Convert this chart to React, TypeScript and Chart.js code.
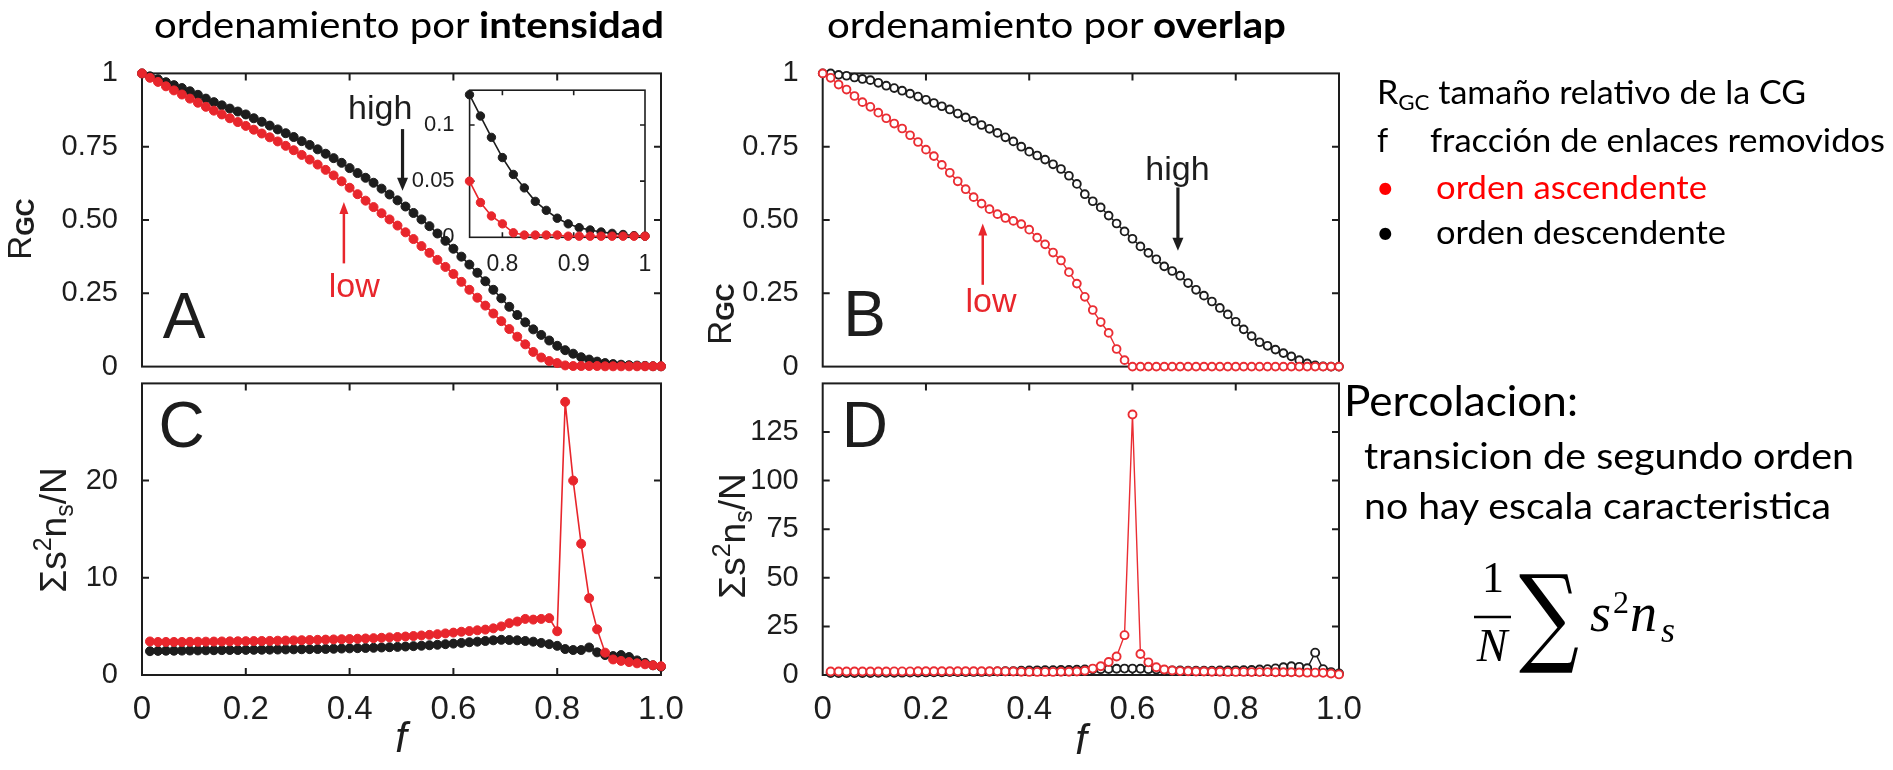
import React, { useEffect, useRef } from "react";
import { Chart, registerables } from "chart.js";

Chart.register(...registerables);

const RED = "#e8262c";
const RED_OPEN = "#ea2d33";
const BLACK = "#1d1d1d";
const RED_TEXT = "#ff0000";
const AX_FONT = "Liberation Sans";
const TXT_FONT = "Lato";

// sampling step of the fraction of removed links f
const F_STEP = 1 / 65;

// Panel A: R_GC vs f (intensity ordering), f = i*F_STEP, i = 0..65
const A_RED = [
  1.0, 0.985, 0.971, 0.956, 0.942, 0.928, 0.914, 0.9, 0.886, 0.873,
  0.86, 0.847, 0.834, 0.821, 0.808, 0.795, 0.782, 0.768, 0.753, 0.738,
  0.722, 0.706, 0.689, 0.671, 0.652, 0.632, 0.61, 0.588, 0.566, 0.544,
  0.523, 0.502, 0.481, 0.458, 0.435, 0.411, 0.388, 0.364, 0.34, 0.316,
  0.289, 0.262, 0.235, 0.208, 0.181, 0.155, 0.128, 0.102, 0.076, 0.05,
  0.031, 0.019, 0.012, 0.004, 0.002, 0.002, 0.002, 0.002, 0.001, 0.001,
  0.001, 0.001, 0.001, 0.001, 0.001, 0.001,
];
const A_BLACK = [
  1.0, 0.99, 0.98, 0.97, 0.96, 0.95, 0.939, 0.927, 0.914, 0.902,
  0.891, 0.88, 0.87, 0.86, 0.847, 0.835, 0.822, 0.809, 0.796, 0.783,
  0.769, 0.756, 0.741, 0.726, 0.711, 0.695, 0.677, 0.66, 0.644, 0.627,
  0.607, 0.587, 0.567, 0.546, 0.524, 0.502, 0.479, 0.454, 0.429, 0.402,
  0.375, 0.348, 0.32, 0.291, 0.262, 0.233, 0.204, 0.176, 0.151, 0.127,
  0.108, 0.089, 0.071, 0.056, 0.044, 0.032, 0.024, 0.017, 0.012, 0.0086,
  0.0065, 0.0047, 0.0035, 0.0025, 0.0015, 0.001,
];
// Panel C: sum s^2 n_s / N, i = 1..65
const C_RED = [
  3.45, 3.4, 3.4, 3.4, 3.4, 3.41, 3.42, 3.43, 3.44, 3.45,
  3.46, 3.47, 3.48, 3.49, 3.5, 3.51, 3.53, 3.54, 3.56, 3.58,
  3.6, 3.62, 3.64, 3.66, 3.68, 3.7, 3.73, 3.76, 3.79, 3.83,
  3.87, 3.91, 3.96, 4.01, 4.07, 4.13, 4.2, 4.28, 4.36, 4.45,
  4.52, 4.6, 4.67, 4.8, 5.0, 5.33, 5.5, 5.77, 5.7, 5.77,
  5.85, 4.5, 28.1, 20.0, 13.5, 7.9, 4.7, 2.3, 1.6, 1.45,
  1.33, 1.2, 1.1, 1.0, 0.9,
];
const C_BLACK = [
  2.45, 2.48, 2.5, 2.5, 2.51, 2.52, 2.53, 2.54, 2.55, 2.56,
  2.57, 2.57, 2.58, 2.59, 2.6, 2.61, 2.62, 2.63, 2.64, 2.65,
  2.66, 2.67, 2.68, 2.7, 2.72, 2.74, 2.76, 2.78, 2.8, 2.83,
  2.86, 2.89, 2.93, 2.97, 3.01, 3.06, 3.11, 3.17, 3.23, 3.3,
  3.37, 3.43, 3.5, 3.57, 3.62, 3.6, 3.57, 3.5, 3.43, 3.3,
  3.17, 3.0, 2.67, 2.57, 2.57, 2.83, 2.33, 2.05, 1.95, 2.05,
  1.85, 1.5, 1.25, 1.0, 0.85,
];
// Panel B: R_GC vs f (overlap ordering), i = 0..65
const B_RED = [
  1.0, 0.985, 0.962, 0.945, 0.923, 0.902, 0.886, 0.866, 0.847, 0.829,
  0.812, 0.789, 0.766, 0.74, 0.718, 0.688, 0.661, 0.632, 0.605, 0.578,
  0.556, 0.537, 0.52, 0.507, 0.497, 0.486, 0.467, 0.44, 0.417, 0.389,
  0.362, 0.322, 0.283, 0.238, 0.193, 0.152, 0.115, 0.06, 0.022, 0,
  0, 0, 0, 0, 0, 0, 0, 0, 0, 0,
  0, 0, 0, 0, 0, 0, 0, 0, 0, 0,
  0, 0, 0, 0, 0, 0,
];
const B_BLACK = [
  1.0, 1.0, 0.995, 0.992, 0.986, 0.981, 0.977, 0.968, 0.958, 0.95,
  0.941, 0.931, 0.921, 0.91, 0.899, 0.888, 0.877, 0.863, 0.85, 0.838,
  0.824, 0.811, 0.797, 0.782, 0.768, 0.75, 0.733, 0.72, 0.706, 0.69,
  0.674, 0.651, 0.623, 0.588, 0.564, 0.543, 0.515, 0.488, 0.461, 0.436,
  0.41, 0.388, 0.366, 0.342, 0.326, 0.31, 0.285, 0.262, 0.242, 0.222,
  0.2, 0.178, 0.153, 0.127, 0.104, 0.083, 0.071, 0.058, 0.046, 0.035,
  0.022, 0.011, 0.004, 0.001, 0, 0,
];
// Panel D: i = 1..65
const D_RED = [
  1.8, 1.8, 1.8, 1.8, 1.8, 1.8, 1.8, 1.8, 1.85, 1.85,
  1.85, 1.9, 1.9, 1.9, 1.9, 1.9, 1.95, 1.95, 1.95, 1.95,
  1.9, 1.9, 1.85, 1.8, 1.7, 1.6, 1.6, 1.6, 1.6, 1.65,
  1.7, 1.8, 2.2, 3.3, 4.5, 6.7, 9.5, 20.5, 134, 10.8,
  6.5, 4.0, 2.8, 2.3, 2.0, 1.9, 1.8, 1.8, 1.7, 1.7,
  1.6, 1.6, 1.6, 1.5, 1.5, 1.5, 1.4, 1.4, 1.4, 1.3,
  1.2, 1.2, 1.1, 0.8, 0.3,
];
const D_BLACK = [
  1.0, 1.0, 1.0, 1.0, 1.0, 1.05, 1.1, 1.1, 1.15, 1.2,
  1.25, 1.3, 1.35, 1.4, 1.45, 1.5, 1.5, 1.55, 1.6, 1.6,
  1.7, 1.8, 1.9, 2.0, 2.2, 2.3, 2.4, 2.5, 2.5, 2.6,
  2.6, 2.7, 2.8, 2.9, 3.0, 3.1, 3.2, 3.3, 3.3, 3.2,
  3.0, 2.8, 2.6, 2.4, 2.3, 2.2, 2.2, 2.2, 2.2, 2.3,
  2.3, 2.4, 2.5, 2.6, 2.8, 3.0, 3.4, 4.0, 4.5, 4.2,
  3.5, 11.5, 3.0, 1.5, 0.8,
];
const INSET_START = 49;

// ticks
const F_TICKS = [0, 0.2, 0.4, 0.6, 0.8, 1];
const F_TICK_LABELS = ["0", "0.2", "0.4", "0.6", "0.8", "1.0"];
const R_TICKS = [0, 0.25, 0.5, 0.75, 1];
const R_TICK_LABELS = ["0", "0.25", "0.50", "0.75", "1"];
const C_TICKS = [0, 10, 20];
const C_TICK_LABELS = ["0", "10", "20"];
const D_TICKS = [0, 25, 50, 75, 100, 125];
const D_TICK_LABELS = ["0", "25", "50", "75", "100", "125"];
const INSET_F_TICKS = [0.8, 0.9, 1];
const INSET_F_LABELS = ["0.8", "0.9", "1"];
const INSET_R_TICKS = [0, 0.05, 0.1];
const INSET_R_LABELS = ["0", "0.05", "0.1"];

const pts = (vals: number[], start: number) =>
  vals.map((y, k) => ({ x: (k + start) * F_STEP, y }));

type Ann =
  | { kind: "text"; x: number; y: number; text: string; color: string; size: number; align?: CanvasTextAlign }
  | { kind: "arrow"; x: number; y1: number; y2: number; color: string; lw: number; hw: number; hl: number };

type Spec = {
  rect: [number, number, number, number];
  plot: [number, number, number, number];
  xr: [number, number];
  yr: [number, number];
  xTicks: number[];
  xLabels: string[] | null;
  yTicks: number[];
  yLabels: string[];
  xFont: number;
  yFont: number;
  xPad: number;
  yPad: number;
  tickLen: number;
  frameW: number;
  ticksTop: boolean;
  ticksBottom: boolean;
  datasets: any[];
  ann: Ann[];
};

function filled(data: any[], color: string, r: number) {
  return {
    data,
    xAxisID: "x",
    yAxisID: "y",
    borderColor: color,
    backgroundColor: color,
    pointBackgroundColor: color,
    pointBorderColor: color,
    pointRadius: r,
    pointBorderWidth: 1,
    borderWidth: 1.6,
    tension: 0,
    clip: false,
  };
}
function open(data: any[], color: string, r: number) {
  return {
    data,
    xAxisID: "x",
    yAxisID: "y",
    borderColor: color,
    backgroundColor: "#ffffff",
    pointBackgroundColor: "#ffffff",
    pointBorderColor: color,
    pointRadius: r,
    pointBorderWidth: 1.9,
    borderWidth: 1.4,
    tension: 0,
    clip: false,
  };
}

function Panel({ spec }: { spec: Spec }) {
  const ref = useRef<HTMLCanvasElement>(null);
  const [L, T, W, H] = spec.rect;
  useEffect(() => {
    const s = spec;
    const [pl, pt, pr, pb] = s.plot;
    const plugin = {
      id: "frameTicks",
      beforeDatasetsDraw(chart: any) {
        const { ctx, chartArea: a, scales } = chart;
        const x = scales.x;
        const y = scales.y;
        ctx.save();
        ctx.strokeStyle = BLACK;
        ctx.lineWidth = s.frameW;
        ctx.beginPath();
        for (const v of s.yTicks) {
          const py = y.getPixelForValue(v);
          if (py < a.top + 2 || py > a.bottom - 2) continue;
          ctx.moveTo(a.left, py);
          ctx.lineTo(a.left + s.tickLen, py);
          ctx.moveTo(a.right, py);
          ctx.lineTo(a.right - s.tickLen, py);
        }
        for (const v of s.xTicks) {
          const px = x.getPixelForValue(v);
          if (px < a.left + 2 || px > a.right - 2) continue;
          if (s.ticksTop) {
            ctx.moveTo(px, a.top);
            ctx.lineTo(px, a.top + s.tickLen);
          }
          if (s.ticksBottom) {
            ctx.moveTo(px, a.bottom);
            ctx.lineTo(px, a.bottom - s.tickLen);
          }
        }
        ctx.stroke();
        ctx.strokeRect(a.left, a.top, a.right - a.left, a.bottom - a.top);
        ctx.restore();
      },
      afterDatasetsDraw(chart: any) {
        const { ctx, scales } = chart;
        const x = scales.x;
        const y = scales.y;
        ctx.save();
        for (const an of s.ann) {
          if (an.kind === "text") {
            ctx.fillStyle = an.color;
            ctx.font = `${an.size}px "${AX_FONT}"`;
            ctx.textAlign = an.align || "center";
            ctx.textBaseline = "alphabetic";
            ctx.fillText(an.text, x.getPixelForValue(an.x), y.getPixelForValue(an.y));
          } else {
            const px = x.getPixelForValue(an.x);
            const p1 = y.getPixelForValue(an.y1);
            const p2 = y.getPixelForValue(an.y2);
            const dir = p2 > p1 ? 1 : -1;
            ctx.strokeStyle = an.color;
            ctx.fillStyle = an.color;
            ctx.lineWidth = an.lw;
            ctx.beginPath();
            ctx.moveTo(px, p1);
            ctx.lineTo(px, p2 - dir * an.hl * 0.8);
            ctx.stroke();
            ctx.beginPath();
            ctx.moveTo(px, p2);
            ctx.lineTo(px - an.hw / 2, p2 - dir * an.hl);
            ctx.lineTo(px + an.hw / 2, p2 - dir * an.hl);
            ctx.closePath();
            ctx.fill();
          }
        }
        ctx.restore();
      },
    };
    const dummy = (axis: string, position: string, fit: (sc: any) => void) => ({
      type: "linear",
      axis,
      position,
      display: true,
      grid: { display: false },
      border: { display: false },
      ticks: { display: false },
      afterFit: fit,
    });
    const chart = new Chart(ref.current as HTMLCanvasElement, {
      type: "line",
      data: { datasets: s.datasets },
      plugins: [plugin],
      options: {
        animation: false,
        responsive: false,
        maintainAspectRatio: false,
        devicePixelRatio: 1,
        events: [],
        layout: { padding: 0, autoPadding: false },
        plugins: { legend: { display: false }, tooltip: { enabled: false } },
        scales: {
          x: {
            type: "linear",
            axis: "x",
            position: "bottom",
            min: s.xr[0],
            max: s.xr[1],
            grid: { display: false },
            border: { display: false },
            afterBuildTicks: (sc: any) => {
              sc.ticks = s.xTicks.map((v) => ({ value: v }));
            },
            ticks: {
              display: !!s.xLabels,
              autoSkip: false,
              maxRotation: 0,
              padding: s.xPad,
              color: BLACK,
              font: { family: AX_FONT, size: s.xFont },
              callback: (_v: any, i: number) => (s.xLabels ? s.xLabels[i] : ""),
            },
            afterFit: (sc: any) => {
              sc.height = T + H - pb;
            },
          },
          y: {
            type: "linear",
            axis: "y",
            position: "left",
            min: s.yr[0],
            max: s.yr[1],
            grid: { display: false },
            border: { display: false },
            afterBuildTicks: (sc: any) => {
              sc.ticks = s.yTicks.map((v) => ({ value: v }));
            },
            ticks: {
              autoSkip: false,
              padding: s.yPad,
              color: BLACK,
              font: { family: AX_FONT, size: s.yFont },
              callback: (_v: any, i: number) => s.yLabels[i],
            },
            afterFit: (sc: any) => {
              sc.width = pl - L;
            },
          },
          xT: dummy("x", "top", (sc: any) => {
            sc.height = pt - T;
          }),
          yR: dummy("y", "right", (sc: any) => {
            sc.width = L + W - pr;
          }),
        },
      } as any,
    });
    return () => chart.destroy();
  }, []);
  return (
    <canvas
      ref={ref}
      width={W}
      height={H}
      style={{ position: "absolute", left: L, top: T, width: W, height: H }}
    />
  );
}

const PLOT_TOP = 73;
const PLOT_MID = 374.5;
const PLOT_BOT = 675;
const LEFT_X0 = 142;
const LEFT_X1 = 661;
const RIGHT_X0 = 822.7;
const RIGHT_X1 = 1339;

const specA: Spec = {
  rect: [0, 40, 700, 360],
  plot: [LEFT_X0, PLOT_TOP, LEFT_X1, PLOT_MID],
  xr: [0, 1],
  yr: [0, 1],
  xTicks: F_TICKS,
  xLabels: null,
  yTicks: R_TICKS,
  yLabels: R_TICK_LABELS,
  xFont: 33,
  yFont: 29,
  xPad: 7,
  yPad: 16,
  tickLen: 7,
  frameW: 2,
  ticksTop: true,
  ticksBottom: false,
  datasets: [filled(pts(A_RED, 0), RED, 4.5), filled(pts(A_BLACK, 0), BLACK, 4.5)],
  ann: [
    { kind: "text", x: 0.459, y: 0.845, text: "high", color: BLACK, size: 34 },
    { kind: "arrow", x: 0.502, y1: 0.81, y2: 0.6, color: BLACK, lw: 3.2, hw: 11, hl: 13 },
    { kind: "text", x: 0.409, y: 0.236, text: "low", color: RED, size: 34 },
    { kind: "arrow", x: 0.389, y1: 0.352, y2: 0.561, color: RED, lw: 2.5, hw: 9, hl: 12 },
    { kind: "text", x: 0.04, y: 0.096, text: "A", color: BLACK, size: 64, align: "left" },
  ],
};

const specInset: Spec = {
  rect: [400, 70, 260, 210],
  plot: [469.6, 90, 645, 237.3],
  xr: [0.754, 1],
  yr: [0, 0.131],
  xTicks: INSET_F_TICKS,
  xLabels: INSET_F_LABELS,
  yTicks: INSET_R_TICKS,
  yLabels: INSET_R_LABELS,
  xFont: 23,
  yFont: 22,
  xPad: 6,
  yPad: 7,
  tickLen: 5,
  frameW: 1.6,
  ticksTop: true,
  ticksBottom: true,
  datasets: [
    filled(pts(A_RED.slice(INSET_START), INSET_START), RED, 4.2),
    filled(pts(A_BLACK.slice(INSET_START), INSET_START), BLACK, 4.2),
  ],
  ann: [],
};

const specC: Spec = {
  rect: [0, 350, 700, 420],
  plot: [LEFT_X0, PLOT_MID, LEFT_X1, PLOT_BOT],
  xr: [0, 1],
  yr: [0, 30],
  xTicks: F_TICKS,
  xLabels: F_TICK_LABELS,
  yTicks: C_TICKS,
  yLabels: C_TICK_LABELS,
  xFont: 33,
  yFont: 29,
  xPad: 7,
  yPad: 16,
  tickLen: 7,
  frameW: 2,
  ticksTop: true,
  ticksBottom: true,
  datasets: [filled(pts(C_RED, 1), RED, 4.5), filled(pts(C_BLACK, 1), BLACK, 4.5)],
  ann: [{ kind: "text", x: 0.032, y: 23.5, text: "C", color: BLACK, size: 64, align: "left" }],
};

const specB: Spec = {
  rect: [690, 40, 700, 360],
  plot: [RIGHT_X0, PLOT_TOP, RIGHT_X1, PLOT_MID],
  xr: [0, 1],
  yr: [0, 1],
  xTicks: F_TICKS,
  xLabels: null,
  yTicks: R_TICKS,
  yLabels: R_TICK_LABELS,
  xFont: 33,
  yFont: 29,
  xPad: 7,
  yPad: 16,
  tickLen: 7,
  frameW: 2,
  ticksTop: true,
  ticksBottom: false,
  datasets: [open(pts(B_RED, 0), RED_OPEN, 3.9), open(pts(B_BLACK, 0), BLACK, 3.9)],
  ann: [
    { kind: "text", x: 0.687, y: 0.635, text: "high", color: BLACK, size: 34 },
    { kind: "arrow", x: 0.688, y1: 0.611, y2: 0.395, color: BLACK, lw: 3.2, hw: 11, hl: 13 },
    { kind: "text", x: 0.326, y: 0.186, text: "low", color: RED, size: 34 },
    { kind: "arrow", x: 0.31, y1: 0.279, y2: 0.488, color: RED, lw: 2.5, hw: 9, hl: 12 },
    { kind: "text", x: 0.04, y: 0.103, text: "B", color: BLACK, size: 64, align: "left" },
  ],
};

const specD: Spec = {
  rect: [690, 350, 700, 420],
  plot: [RIGHT_X0, PLOT_MID, RIGHT_X1, PLOT_BOT],
  xr: [0, 1],
  yr: [0, 150],
  xTicks: F_TICKS,
  xLabels: F_TICK_LABELS,
  yTicks: D_TICKS,
  yLabels: D_TICK_LABELS,
  xFont: 33,
  yFont: 29,
  xPad: 7,
  yPad: 16,
  tickLen: 7,
  frameW: 2,
  ticksTop: true,
  ticksBottom: true,
  datasets: [open(pts(D_RED, 1), RED_OPEN, 4.0), open(pts(D_BLACK, 1), BLACK, 4.0)],
  ann: [{ kind: "text", x: 0.037, y: 117.5, text: "D", color: BLACK, size: 64, align: "left" }],
};

function SumLabel({ x, y }: { x: number; y: number }) {
  const ax = { fontFamily: AX_FONT, fill: BLACK } as any;
  return (
    <text transform={`translate(${x},${y}) rotate(-90)`} textAnchor="middle" fontSize={37} {...ax}>
      Σs<tspan fontSize={25} dy={-15}>2</tspan>
      <tspan dy={15}>n</tspan>
      <tspan fontSize={25} dy={7}>s</tspan>
      <tspan dy={-7}>/N</tspan>
    </text>
  );
}

function RLabel({ x, y }: { x: number; y: number }) {
  const ax = { fontFamily: AX_FONT, fill: BLACK } as any;
  return (
    <text transform={`translate(${x},${y}) rotate(-90)`} textAnchor="middle" fontSize={33} {...ax}>
      R<tspan fontSize={25} fontWeight="bold" dy={3}>GC</tspan>
    </text>
  );
}

function TextLayer() {
  const t = { fontFamily: TXT_FONT, fill: "#000" } as any;
  const ax = { fontFamily: AX_FONT, fill: BLACK } as any;
  const serif = { fontFamily: "Liberation Serif", fill: "#000" } as any;
  return (
    <svg
      width={1893}
      height={770}
      style={{ position: "absolute", left: 0, top: 0, pointerEvents: "none" }}
    >
      {/* titles */}
      <text x={154} y={38} fontSize={37} textLength={510} lengthAdjust="spacingAndGlyphs" {...t}>
        ordenamiento por <tspan fontWeight="bold">intensidad</tspan>
      </text>
      <text x={827} y={38} fontSize={37} textLength={459} lengthAdjust="spacingAndGlyphs" {...t}>
        ordenamiento por <tspan fontWeight="bold">overlap</tspan>
      </text>

      {/* y axis titles */}
      <RLabel x={31} y={229} />
      <RLabel x={731} y={314} />
      <SumLabel x={66} y={530} />
      <SumLabel x={745} y={536} />

      {/* x axis titles */}
      <text x={401} y={752} textAnchor="middle" fontSize={42} fontStyle="italic" {...ax}>
        f
      </text>
      <text x={1081} y={754} textAnchor="middle" fontSize={42} fontStyle="italic" {...ax}>
        f
      </text>

      {/* legend block */}
      <text x={1377} y={104} fontSize={32} textLength={429} lengthAdjust="spacingAndGlyphs" {...t}>
        R<tspan fontSize={21} dy={6}>GC</tspan>
        <tspan dy={-6}> tamaño relativo de la CG</tspan>
      </text>
      <text x={1377} y={152} fontSize={32} {...t}>
        f
      </text>
      <text x={1430} y={152} fontSize={32} textLength={455} lengthAdjust="spacingAndGlyphs" {...t}>
        fracción de enlaces removidos
      </text>
      <text x={1376} y={199} fontSize={32} {...t} fill={RED_TEXT}>
        •
      </text>
      <text x={1436} y={199} fontSize={32} textLength={271} lengthAdjust="spacingAndGlyphs" {...t} fill={RED_TEXT}>
        orden ascendente
      </text>
      <text x={1376} y={244} fontSize={32} {...t}>
        •
      </text>
      <text x={1436} y={244} fontSize={32} textLength={290} lengthAdjust="spacingAndGlyphs" {...t}>
        orden descendente
      </text>

      {/* percolation block */}
      <text x={1344} y={416} fontSize={43} textLength={234} lengthAdjust="spacingAndGlyphs" {...t}>
        Percolacion:
      </text>
      <text x={1364} y={469} fontSize={37} textLength={490} lengthAdjust="spacingAndGlyphs" {...t}>
        transicion de segundo orden
      </text>
      <text x={1364} y={519} fontSize={37} textLength={467} lengthAdjust="spacingAndGlyphs" {...t}>
        no hay escala caracteristica
      </text>

      {/* formula */}
      <text x={1493} y={592} textAnchor="middle" fontSize={44} {...serif}>
        1
      </text>
      <line x1={1474} y1={617} x2={1511} y2={617} stroke="#000" strokeWidth={2.5} />
      <text x={1492} y={661} textAnchor="middle" fontSize={46} fontStyle="italic" {...serif}>
        N
      </text>
      <text x={1519} y={652} fontSize={108} textLength={60} lengthAdjust="spacingAndGlyphs" fontFamily="DejaVu Serif" fill="#000">
        ∑
      </text>
      <text x={1590} y={631} fontSize={54} fontStyle="italic" {...serif}>
        s
      </text>
      <text x={1613} y={613} fontSize={32} {...serif}>
        2
      </text>
      <text x={1630} y={631} fontSize={54} fontStyle="italic" {...serif}>
        n
      </text>
      <text x={1661} y={642} fontSize={36} fontStyle="italic" {...serif}>
        s
      </text>
    </svg>
  );
}

export default function App() {
  return (
    <div style={{ position: "absolute", left: 0, top: 0, width: 1893, height: 770, background: "#fff", overflow: "hidden" }}>
      <Panel spec={specA} />
      <Panel spec={specC} />
      <Panel spec={specB} />
      <Panel spec={specD} />
      <Panel spec={specInset} />
      <TextLayer />
    </div>
  );
}
